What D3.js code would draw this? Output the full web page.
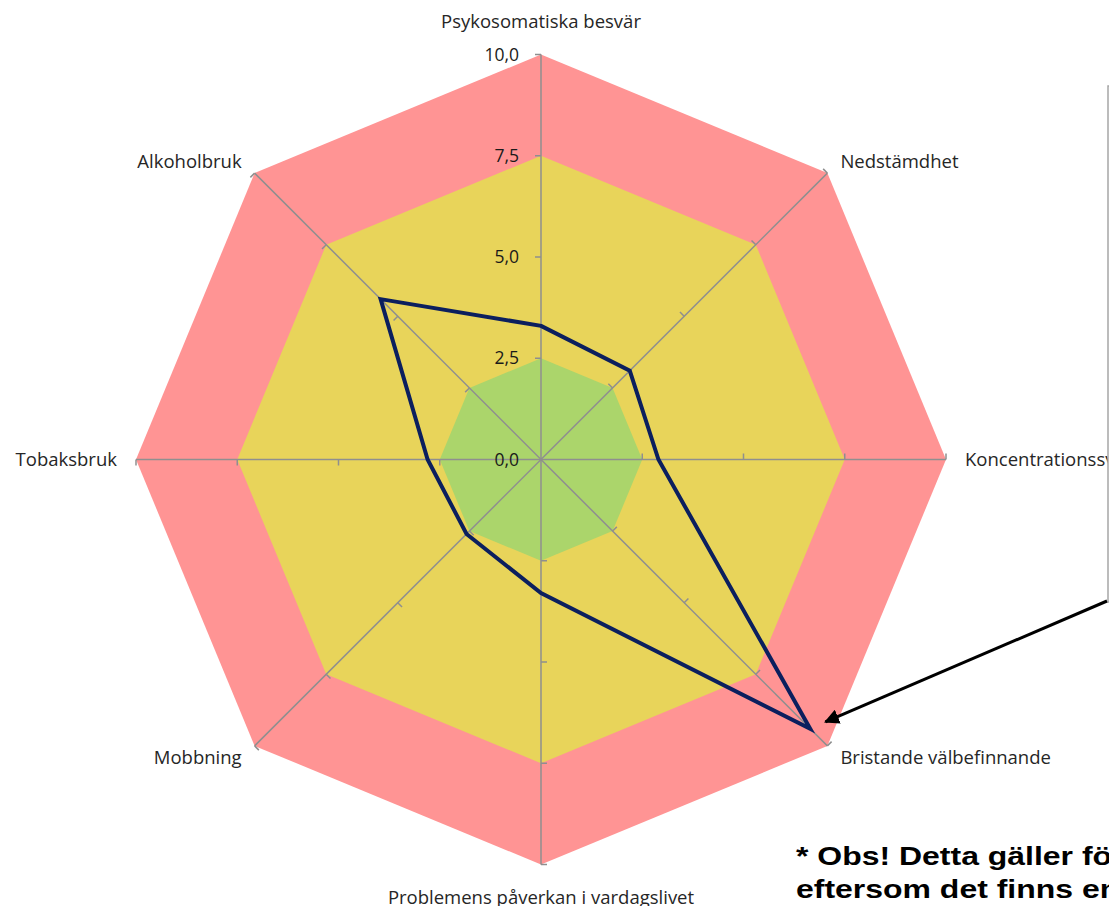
<!DOCTYPE html>
<html>
<head>
<meta charset="utf-8">
<script src="https://cdn.jsdelivr.net/npm/d3@7"></script>
<style>
  body { margin: 0; background: #fff; overflow: hidden; }
  svg { display: block; }
</style>
</head>
<body>
<svg width="1109" height="906"></svg>
<script>
var categories = ["Psykosomatiska besvär", "Nedstämdhet", "Koncentrationssvårigheter", "Bristande välbefinnande",
    "Problemens påverkan i vardagslivet", "Mobbning", "Tobaksbruk", "Alkoholbruk"];
var values = [3.3, 3.1, 2.9, 9.4, 3.3, 2.6, 2.8, 5.6];
var tickValues = [0, 2.5, 5, 7.5, 10];
var tickLabels = ["0,0", "2,5", "5,0", "7,5", "10,0"];
var bandLimits = [10, 7.5, 2.5];
var bandColors = ["#ff9494", "#e8d45a", "#abd56b"];

var svg = d3.select("svg"),
    cx = 541, cy = 459.5,
    radius = 405,
    g = svg.append("g").attr("transform", "translate(" + cx + "," + cy + ")");

var r = d3.scaleLinear().domain([0, 10]).range([0, radius]);
var angle = d3.scaleLinear().domain([0, categories.length]).range([0, 2 * Math.PI]);

function pt(i, v) {
    var a = angle(i);
    return [r(v) * Math.sin(a), -r(v) * Math.cos(a)];
}

// coloured bands
g.selectAll("path.band")
    .data(bandLimits)
    .enter().append("path")
    .attr("class", "band")
    .attr("fill", function(d, i) { return bandColors[i]; })
    .attr("d", function(d) {
        return d3.line()(categories.map(function(c, i) { return pt(i, d); })) + "Z";
    });

// spokes
g.selectAll("line.spoke")
    .data(categories)
    .enter().append("line")
    .attr("class", "spoke")
    .attr("x1", 0).attr("y1", 0)
    .attr("x2", function(d, i) { return pt(i, 10)[0]; })
    .attr("y2", function(d, i) { return pt(i, 10)[1]; })
    .attr("stroke", "#8f8f8f")
    .attr("stroke-width", 1.5);

// small tick marks on each spoke
var tickData = [];
categories.forEach(function(c, i) {
    tickValues.slice(1).forEach(function(t) { tickData.push({i: i, v: t}); });
});
g.selectAll("line.tick")
    .data(tickData)
    .enter().append("line")
    .attr("class", "tick")
    .attr("stroke", "#8f8f8f")
    .attr("stroke-width", 1.5)
    .each(function(d) {
        var p = pt(d.i, d.v), a = angle(d.i);
        d3.select(this)
            .attr("x1", p[0]).attr("y1", p[1])
            .attr("x2", p[0] - 6 * Math.cos(a))
            .attr("y2", p[1] - 6 * Math.sin(a));
    });

// tick labels
g.selectAll("text.tlabel")
    .data(tickValues)
    .enter().append("text")
    .attr("class", "tlabel")
    .attr("x", -22)
    .attr("y", function(d) { return -r(d); })
    .attr("dy", "0.35em")
    .attr("text-anchor", "end")
    .attr("font-family", "Open Sans, sans-serif")
    .attr("font-size", 17.5)
    .attr("fill", "#1a1a1a")
    .text(function(d, i) { return tickLabels[i]; });

// data polygon
g.append("path")
    .attr("d", d3.line()(values.map(function(v, i) { return pt(i, v); })) + "Z")
    .attr("fill", "none")
    .attr("stroke", "#0b1f5e")
    .attr("stroke-width", 4)
    .attr("stroke-linejoin", "miter");

// category labels
g.selectAll("text.clabel")
    .data(categories)
    .enter().append("text")
    .attr("class", "clabel")
    .attr("font-family", "Open Sans, sans-serif")
    .attr("font-size", 18.5)
    .attr("fill", "#262626")
    .attr("dy", "0.35em")
    .each(function(d, i) {
        var p = pt(i, 10), a = angle(i), s = Math.sin(a), c = Math.cos(a);
        var side = Math.abs(s) < 0.01 ? 0 : (s > 0 ? 1 : -1);
        var anchor = side == 0 ? "middle" : (side > 0 ? "start" : "end");
        var x = p[0] + side * (Math.abs(c) < 0.01 ? 19 : 13);
        var y = p[1];
        if (side == 0) y += c > 0 ? -33 : 33;
        else if (Math.abs(c) > 0.01) y += c > 0 ? -12 : 12;
        d3.select(this).attr("x", x).attr("y", y).attr("text-anchor", anchor).text(d);
    });

// note box on the right (mostly outside the view)
svg.append("rect")
    .attr("x", 1108).attr("y", 86)
    .attr("width", 300).attr("height", 516)
    .attr("fill", "#fff")
    .attr("stroke", "#a6a6a6")
    .attr("stroke-width", 1.5);

svg.append("defs").append("marker")
    .attr("id", "arrow")
    .attr("viewBox", "0 0 10 10")
    .attr("refX", 9).attr("refY", 5)
    .attr("markerWidth", 5).attr("markerHeight", 5)
    .attr("orient", "auto")
    .append("path")
    .attr("d", "M0,0L10,5L0,10Z")
    .attr("fill", "#000");

var tip = pt(3, 10);
svg.append("line")
    .attr("x1", 1107).attr("y1", 601)
    .attr("x2", cx + tip[0] - 2).attr("y2", cy + tip[1] - 24)
    .attr("stroke", "#000")
    .attr("stroke-width", 3)
    .attr("marker-end", "url(#arrow)");

var note = svg.append("text")
    .attr("transform", "translate(796,0) scale(1.23,1)")
    .attr("font-family", "Liberation Sans, Arial, sans-serif")
    .attr("font-weight", "bold")
    .attr("font-size", 26)
    .attr("fill", "#000");
note.append("tspan").attr("x", 0).attr("y", 865).text("* Obs! Detta gäller för");
note.append("tspan").attr("x", 0).attr("y", 898).text("eftersom det finns en");
</script>
</body>
</html>
